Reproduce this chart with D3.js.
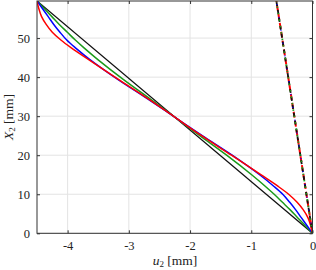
<!DOCTYPE html>
<html><head><meta charset="utf-8">
<script src="https://cdn.jsdelivr.net/npm/d3@7"></script>
<style>body{margin:0;background:#fff}svg{display:block}text{font-family:"Liberation Serif","DejaVu Serif",serif;fill:#222}</style>
</head><body>
<svg id="c" width="316" height="270"></svg>
<script>
const xTicks = [-4, -3, -2, -1, 0];
const yTicks = [0, 10, 20, 30, 40, 50];
const X2 = [0, 2, 4, 6, 8, 10, 12, 15, 20, 25, 29.75, 34.5, 39.5, 44.5, 47.5, 49.5, 51.5, 53.5, 55.5, 57.5, 59.5];
const uRed   = [0, -0.03, -0.075, -0.15, -0.255, -0.39, -0.56, -0.844, -1.323, -1.811, -2.25, -2.689, -3.177, -3.656, -3.94, -4.11, -4.25, -4.35, -4.425, -4.47, -4.5];
const uBlue  = [0, -0.091, -0.183, -0.274, -0.375, -0.486, -0.628, -0.864, -1.313, -1.801, -2.25, -2.699, -3.187, -3.636, -3.872, -4.014, -4.125, -4.226, -4.317, -4.409, -4.5];
const uGreen = [0, -0.121, -0.243, -0.364, -0.495, -0.626, -0.768, -0.994, -1.403, -1.841, -2.25, -2.659, -3.097, -3.506, -3.732, -3.874, -4.005, -4.136, -4.257, -4.379, -4.5];
const X2Black = [0, 59.5];
const uBlack = [0, -4.5];
const X2Steep = [0, 59.5];
const uSteep = [0, -0.59];

const svg = d3.select("#c");
const m = {l: 37, r: 312.5, t: 1, b: 233.3};
const x = d3.scaleLinear().domain([-4.5, 0]).range([m.l, m.r]);
const y = d3.scaleLinear().domain([0, 59.5]).range([m.b, m.t]);

svg.append("g").selectAll("line").data(xTicks).join("line")
  .attr("x1", d => x(d)).attr("x2", d => x(d)).attr("y1", m.t).attr("y2", m.b)
  .attr("stroke", "#e3e3e3").attr("stroke-width", 1);
svg.append("g").selectAll("line").data(yTicks).join("line")
  .attr("y1", d => y(d)).attr("y2", d => y(d)).attr("x1", m.l).attr("x2", m.r)
  .attr("stroke", "#e3e3e3").attr("stroke-width", 1);

svg.append("clipPath").attr("id", "clp").append("rect")
  .attr("x", m.l).attr("y", m.t).attr("width", m.r - m.l).attr("height", m.b - m.t);
const plot = svg.append("g").attr("clip-path", "url(#clp)");

const line = d3.line().x(d => x(d[0])).y(d => y(d[1])).curve(d3.curveCatmullRom);
const mk = (us, xs) => us.map((u, i) => [u, xs[i]]);

plot.append("path").datum(mk(uBlack, X2Black)).attr("d", line).attr("fill", "none").attr("stroke", "#111").attr("stroke-width", 1.3);
plot.append("path").datum(mk(uGreen, X2)).attr("d", line).attr("fill", "none").attr("stroke", "#1a9a1a").attr("stroke-width", 1.5);
plot.append("path").datum(mk(uBlue, X2)).attr("d", line).attr("fill", "none").attr("stroke", "#0000ff").attr("stroke-width", 1.5);
plot.append("path").datum(mk(uRed, X2)).attr("d", line).attr("fill", "none").attr("stroke", "#ff0000").attr("stroke-width", 1.5);

const steep = mk(uSteep, X2Steep);
plot.append("path").datum(steep).attr("d", line).attr("fill", "none").attr("stroke", "#ff0000").attr("stroke-width", 2).attr("stroke-dasharray", "6,3");
plot.append("path").datum(steep).attr("d", line).attr("fill", "none").attr("stroke", "#111").attr("stroke-width", 1.8).attr("stroke-dasharray", "4,4").attr("stroke-dashoffset", 2);
plot.append("path").datum(steep).attr("d", line).attr("fill", "none").attr("stroke", "#1a9a1a").attr("stroke-width", 1.8).attr("stroke-dasharray", "1.5,5").attr("stroke-dashoffset", 6);
plot.append("path").datum(steep).attr("d", line).attr("fill", "none").attr("stroke", "#0000ff").attr("stroke-width", 1.3).attr("stroke-dasharray", "1,12").attr("stroke-dashoffset", 3);

const ax = d3.axisBottom(x).tickValues(xTicks).tickSize(-3).tickPadding(8).tickFormat(d => d === 0 ? "0" : "-" + Math.abs(d));
const gx = svg.append("g").attr("transform", `translate(0,${m.b})`).call(ax);
const gxt = svg.append("g").attr("transform", `translate(0,${m.t})`).call(d3.axisTop(x).tickValues(xTicks).tickSize(-3).tickFormat(""));
const ay = d3.axisLeft(y).tickValues(yTicks).tickSize(-3).tickPadding(7);
const gy = svg.append("g").attr("transform", `translate(${m.l},0)`).call(ay);
const gyr = svg.append("g").attr("transform", `translate(${m.r},0)`).call(d3.axisRight(y).tickValues(yTicks).tickSize(-3).tickFormat(""));
[gx, gxt, gy, gyr].forEach(g => {
  g.select(".domain").remove();
  g.selectAll("line").attr("stroke", "#333").attr("stroke-width", 1);
  g.selectAll("text").attr("font-size", 12.5).attr("fill", "#222").style("font-family", '"Liberation Serif","DejaVu Serif",serif');
});
svg.append("rect").attr("x", m.l).attr("y", m.t).attr("width", m.r - m.l).attr("height", m.b - m.t)
  .attr("fill", "none").attr("stroke", "#333").attr("stroke-width", 1);

const xl = svg.append("text").attr("x", 175).attr("y", 265).attr("text-anchor", "middle").attr("font-size", 13.5);
xl.append("tspan").attr("font-style", "italic").text("u");
xl.append("tspan").attr("font-size", 9).attr("dy", 2).text("2");
xl.append("tspan").attr("dy", -2).text(" [mm]");
const yl = svg.append("text").attr("transform", "translate(13,117) rotate(-90)").attr("text-anchor", "middle").attr("font-size", 13.5);
yl.append("tspan").attr("font-style", "italic").text("X");
yl.append("tspan").attr("font-size", 9).attr("dy", 2).text("2");
yl.append("tspan").attr("dy", -2).text(" [mm]");
</script>
</body></html>
